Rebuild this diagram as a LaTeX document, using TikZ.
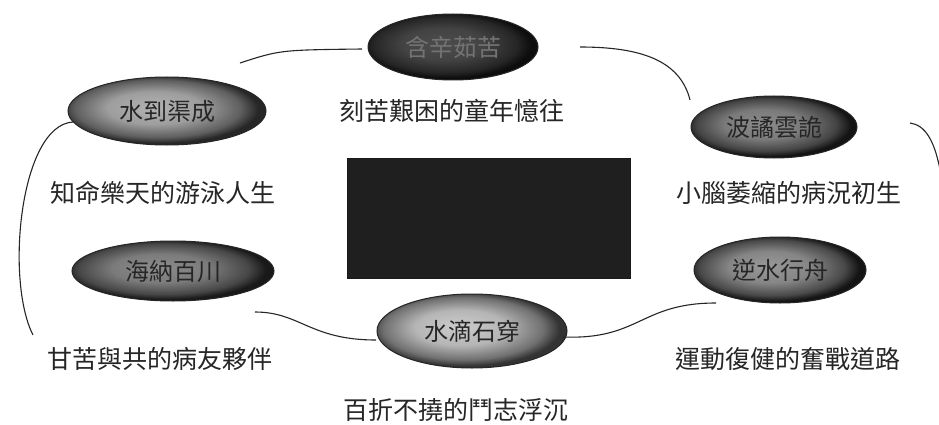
\documentclass[tikz,border=0pt]{standalone}
\usepackage{fontspec}
\setmainfont{Noto Sans CJK TC}
\pgfdeclareradialshading[pinner,pouter]{pillshade}{\pgfpoint{-4bp}{3bp}}{%
  color(0bp)=(pinner);color(12bp)=(pinner!85!pouter);color(21bp)=(pinner!40!pouter);color(25bp)=(pouter);color(50bp)=(pouter)}
\begin{document}
\begin{tikzpicture}[x=1pt,y=-1pt,
  pilltext/.style={inner sep=0pt,font=\fontsize{24}{26}\selectfont,text=black!85},
  shell/.style={draw=black!85,line width=1pt,shading=pillshade},
  lbl/.style={font=\fontsize{25}{28}\selectfont,text=black!85},
  conn/.style={draw=black!85,line width=1.1pt}]
\useasboundingbox (0,0) rectangle (939,425);
% ellipse bodies
\colorlet{pinner}{black!70}\colorlet{pouter}{black!95}
\shade[shell] (453,47) ellipse [x radius=85pt,y radius=33pt];
\colorlet{pinner}{black!30}\colorlet{pouter}{black!85}
\shade[shell] (167,111) ellipse [x radius=99pt,y radius=34pt];
\colorlet{pinner}{black!45}\colorlet{pouter}{black!92}
\shade[shell] (774,127) ellipse [x radius=83pt,y radius=31pt];
\colorlet{pinner}{black!45}\colorlet{pouter}{black!90}
\shade[shell] (173,271) ellipse [x radius=101pt,y radius=30pt];
\colorlet{pinner}{black!40}\colorlet{pouter}{black!92}
\shade[shell] (780,270) ellipse [x radius=86pt,y radius=33pt];
\colorlet{pinner}{black!20}\colorlet{pouter}{black!80}
\shade[shell] (472,331) ellipse [x radius=95pt,y radius=37pt];
% ellipse texts
\node[pilltext,text=black!55] (top) at (453,47) {含辛茹苦};
\node[pilltext] (lt) at (167,111) {水到渠成};
\node[pilltext] (rt) at (774,127) {波譎雲詭};
\node[pilltext] (lb) at (173,271) {海納百川};
\node[pilltext] (rb) at (780,270) {逆水行舟};
\node[pilltext] (bc) at (472,331) {水滴石穿};
% central block
\node[fill=black!88,draw=black!90,minimum width=283pt,minimum height=120pt,inner sep=0pt] (box) at (489,218) {};
% captions
\node[lbl] (c1) at (452,111) {刻苦艱困的童年憶往};
\node[lbl] (c2) at (163,193) {知命樂天的游泳人生};
\node[lbl] (c3) at (789,193) {小腦萎縮的病況初生};
\node[lbl] (c4) at (160,359) {甘苦與共的病友夥伴};
\node[lbl] (c5) at (788,359) {運動復健的奮戰道路};
\node[lbl] (c6) at (456,410) {百折不撓的鬥志浮沉};
% connector ends
\coordinate (a1) at (240,63);  \coordinate (a2) at (362,49);
\coordinate (b1) at (580,47);  \coordinate (b2) at (690,100);
\coordinate (d1) at (910,123); \coordinate (d2) at (941,175);
\coordinate (e1) at (73,122);  \coordinate (e2) at (33,335);
\coordinate (f1) at (255,312); \coordinate (f2) at (376,340);
\coordinate (g1) at (563,337); \coordinate (g2) at (716,303);
% connectors
\draw[conn] (a1) .. controls (280,50) .. (a2);
\draw[conn] (b1) .. controls (640,47) and (680,60) .. (b2);
\draw[conn] (d1) .. controls (925,125) and (935,140) .. (d2);
\draw[conn] (e1) .. controls (20,125) and (5,280) .. (e2);
\draw[conn] (f1) .. controls (300,312) and (310,340) .. (f2);
\draw[conn] (g1) .. controls (640,340) and (640,303) .. (g2);
\end{tikzpicture}
\end{document}
